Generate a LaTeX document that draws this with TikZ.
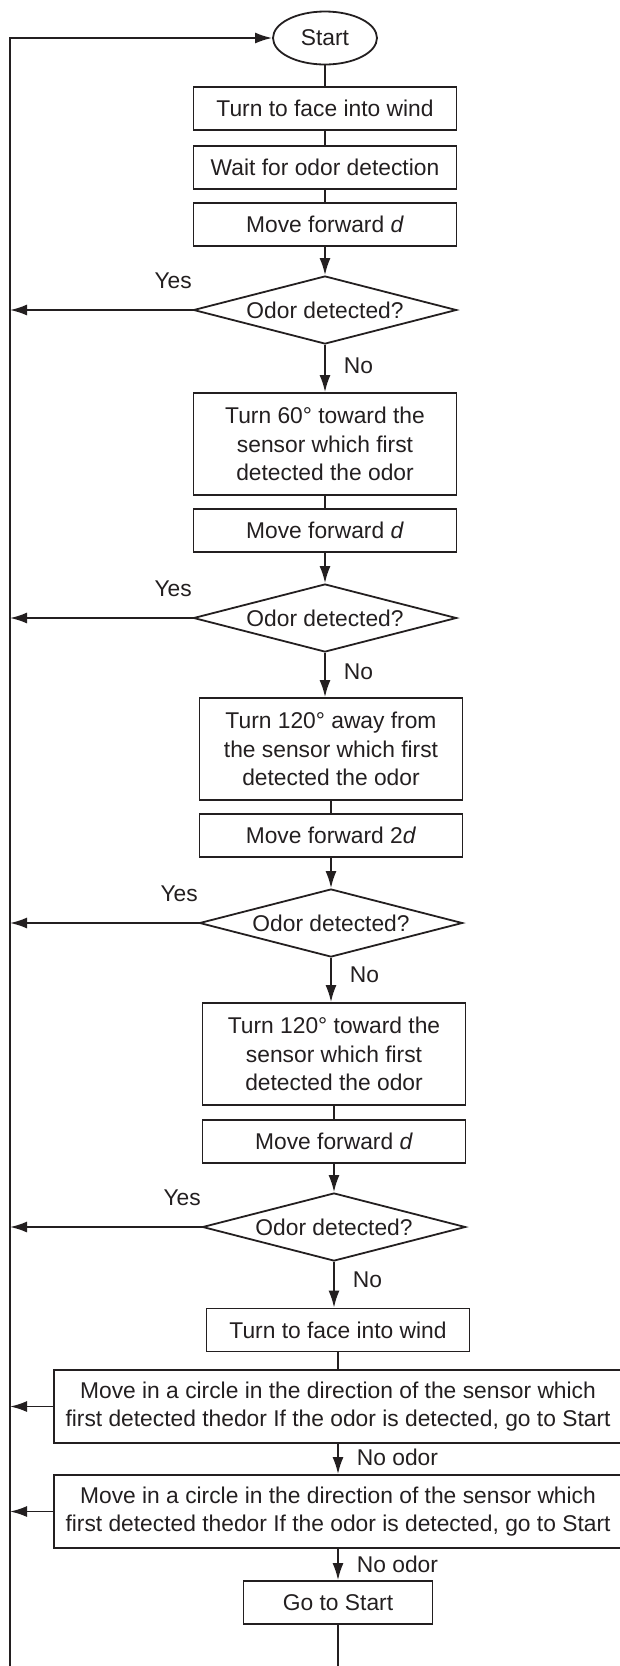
\documentclass[tikz,border=0pt]{standalone}
\usepackage{fontspec}
\setmainfont{Liberation Sans}
\usetikzlibrary{shapes.geometric}
\usetikzlibrary{arrows.meta}
\definecolor{encre}{RGB}{35,31,32}

\begin{document}
\begin{tikzpicture}[x=0.5pt,y=-0.5pt,
  every node/.style={font=\fontsize{11.4}{14.25}\selectfont, text=encre},
  trait/.style={draw=encre, line width=0.9pt},
  fleche/.style={trait, -{Latex[length=8.5pt,width=5.5pt]}},
  boite/.style={trait, minimum width=131.5pt, minimum height=21.5pt, inner sep=0pt, align=center},
  boite3/.style={boite, minimum height=51pt},
  boitelarge/.style={boite, minimum width=284pt, minimum height=36.5pt},
  losange/.style={trait, diamond, aspect=3.87, minimum width=131.5pt, minimum height=34pt, inner sep=0pt},
  ovale/.style={trait, ellipse, minimum width=52pt, minimum height=26.5pt},
  etiq/.style={inner sep=0pt}]
\useasboundingbox (0,0) rectangle (620,1666);
\clip (0,0) rectangle (620,1666);
% les etapes
\node[ovale] (start) at (325,38) {Start};
\node[boite] (b1) at (325,108.5) {Turn to face into wind};
\node[boite] (b2) at (325,167.5) {Wait for odor detection};
\node[boite] (b3) at (325,224.5) {Move forward \textit{d}};
\node[losange] (d1) at (325,310) {Odor detected?};
\node[boite3] (b4) at (325,444) {Turn 60° toward the\\sensor which first\\detected the odor};
\node[boite] (b5) at (325,530.5) {Move forward \textit{d}};
\node[losange] (d2) at (325,618) {Odor detected?};
\node[boite3] (b6) at (331,749) {Turn 120° away from\\the sensor which first\\detected the odor};
\node[boite] (b7) at (331,835.5) {Move forward 2\textit{d}};
\node[losange] (d3) at (331,923) {Odor detected?};
\node[boite3] (b8) at (334,1054) {Turn 120° toward the\\sensor which first\\detected the odor};
\node[boite] (b9) at (334,1141.5) {Move forward \textit{d}};
\node[losange] (d4) at (334,1227) {Odor detected?};
\node[boite] (b10) at (338,1330) {Turn to face into wind};
\node[boitelarge] (w1) at (338,1406.5) {Move in a circle in the direction of the sensor which\\first detected thedor If the odor is detected, go to Start};
\node[boitelarge] (w2) at (338,1511.5) {Move in a circle in the direction of the sensor which\\first detected thedor If the odor is detected, go to Start};
\node[boite, minimum width=94.5pt] (go) at (338,1602.5) {Go to Start};
\coordinate (loop) at (10,1690);
% les liaisons
\draw[trait] (start) -- (b1);
\draw[trait] (b1) -- (b2);
\draw[trait] (b2) -- (b3);
\draw[fleche] (b3) -- (d1);
\draw[fleche] (d1) -- node[etiq, right=9pt, pos=.45] (n1) {No} (b4);
\draw[trait] (b4) -- (b5);
\draw[fleche] (b5) -- (d2);
\draw[fleche] (d2) -- node[etiq, right=9pt, pos=.42] (n2) {No} (d2 |- b6.north);
\draw[trait] (b6) -- (b7);
\draw[fleche] (b7) -- (d3);
\draw[fleche] (d3) -- node[etiq, right=9pt, pos=.38] (n3) {No} (d3 |- b8.north);
\draw[trait] (b8) -- (b9);
\draw[fleche] (b9) -- (d4);
\draw[fleche] (d4) -- node[etiq, right=9pt, pos=.38] (n4) {No} (d4 |- b10.north);
\draw[trait] (b10) -- (w1);
\draw[fleche] (w1) -- node[etiq, right=9pt, pos=.45] (n5) {No odor} (w2);
\draw[fleche] (w2) -- node[etiq, right=9pt, pos=.5] (n6) {No odor} (go);
% retour au depart
\foreach \d/\y in {d1/y1,d2/y2,d3/y3,d4/y4}
  \draw[fleche] (\d.west) -- node[etiq, pos=0, anchor=south east, yshift=10pt] (\y) {Yes} (\d.west -| loop);
\foreach \w in {w1,w2}
  \draw[fleche] (\w) -- (\w.west -| loop);
\draw[fleche] (go) |- (loop) |- (start);
\end{tikzpicture}
\end{document}
